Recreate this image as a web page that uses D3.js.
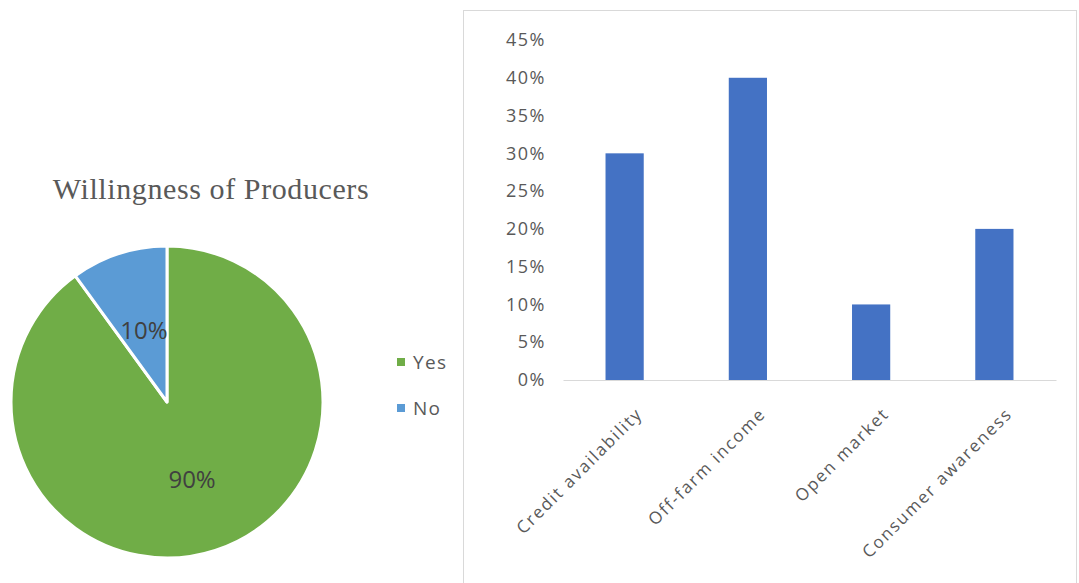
<!DOCTYPE html>
<html>
<head>
<meta charset="utf-8">
<script src="https://cdn.jsdelivr.net/npm/d3@7"></script>
<style>
  html, body { margin: 0; padding: 0; background: #ffffff; }
  svg { display: block; }
</style>
</head>
<body>
<svg id="chart" width="1079" height="583"></svg>
<script>
// Pie: willingness of producers
const pieLabels = ["Yes", "No"];
const pieValues = [0.90, 0.10];

// Bar: factors
const barCategories = ["Credit availability", "Off-farm income", "Open market", "Consumer awareness"];
const barValues = [0.30, 0.40, 0.10, 0.20];
const yTicks = [0, 0.05, 0.10, 0.15, 0.20, 0.25, 0.30, 0.35, 0.40, 0.45];

const svg = d3.select("#chart");
const textGray = "#595959";
const sans = "'Open Sans', 'Noto Sans', sans-serif";

// ---------- Pie chart ----------
const pieColor = d3.scaleOrdinal().domain(pieLabels).range(["#70AD47", "#5B9BD5"]);
const cx = 167, cy = 402, r = 156;

svg.append("text")
  .attr("x", 211).attr("y", 199)
  .attr("text-anchor", "middle")
  .style("font-family", "'Liberation Serif', 'DejaVu Serif', serif")
  .style("font-size", "30px")
  .style("letter-spacing", "0.6px")
  .style("fill", textGray)
  .text("Willingness of Producers");

const pie = d3.pie().sort(null).value(d => d.value);
const pieData = pie(pieLabels.map((l, i) => ({ label: l, value: pieValues[i] })));
const arc = d3.arc().innerRadius(0).outerRadius(r);

const pg = svg.append("g").attr("transform", `translate(${cx},${cy})`);
pg.selectAll("path.slice")
  .data(pieData)
  .join("path")
  .attr("class", "slice")
  .attr("d", arc)
  .attr("fill", d => pieColor(d.data.label))
  .attr("stroke", "#ffffff")
  .attr("stroke-width", 3)
  .attr("stroke-linejoin", "round");

// data labels placed inside slices
pg.selectAll("text.pct")
  .data(pieData)
  .join("text")
  .attr("class", "pct")
  .attr("transform", d => {
    const k = d.data.label === "Yes" ? 0.52 : 0.48;
    const [x, y] = d3.arc().innerRadius(r * k).outerRadius(r * k).centroid(d);
    return `translate(${x},${y})`;
  })
  .attr("text-anchor", "middle")
  .attr("dy", "0.35em")
  .style("font-family", sans)
  .style("font-size", "24px")
  .style("fill", "#404040")
  .text(d => d3.format(".0%")(d.data.value));

// legend
const lg = svg.append("g");
pieLabels.forEach((l, i) => {
  const y = 362 + i * 46;
  lg.append("rect")
    .attr("x", 397).attr("y", y - 4)
    .attr("width", 8).attr("height", 8)
    .attr("fill", pieColor(l));
  lg.append("text")
    .attr("x", 413).attr("y", y)
    .attr("dy", "0.36em")
    .style("font-family", sans)
    .style("font-size", "19px")
    .style("letter-spacing", "1.3px")
    .style("fill", textGray)
    .text(l);
});

// ---------- Bar chart ----------
// panel frame
svg.append("rect")
  .attr("x", 463.5).attr("y", 10.5)
  .attr("width", 613).attr("height", 600)
  .attr("fill", "none")
  .attr("stroke", "#d9d9d9")
  .attr("stroke-width", 1);

const x = d3.scaleBand()
  .domain(barCategories)
  .range([563, 1056])
  .paddingInner(0.69)
  .paddingOuter(0.345);

const y = d3.scaleLinear().domain([0, 0.45]).range([380, 40]);

// y axis labels
const yAxis = d3.axisLeft(y)
  .tickValues(yTicks)
  .tickFormat(d3.format(".0%"))
  .tickSize(0)
  .tickPadding(17);
const yg = svg.append("g").attr("transform", "translate(563,0)").call(yAxis);
yg.select(".domain").remove();
yg.selectAll("text")
  .style("font-family", sans)
  .style("font-size", "18px")
  .style("letter-spacing", "1.5px")
  .style("fill", textGray);

// bars
svg.append("g").selectAll("rect")
  .data(barCategories.map((c, i) => ({ c, v: barValues[i] })))
  .join("rect")
  .attr("x", d => x(d.c))
  .attr("y", d => y(d.v))
  .attr("width", x.bandwidth())
  .attr("height", d => y(0) - y(d.v))
  .attr("fill", "#4472C4");

// x axis with rotated category labels
const xAxis = d3.axisBottom(x).tickSize(0).tickSizeOuter(0);
const xg = svg.append("g").attr("transform", "translate(0,380)").call(xAxis);
xg.select(".domain").attr("stroke", "#d9d9d9").attr("stroke-width", 1.2);
xg.selectAll("text")
  .attr("x", 0).attr("y", 0).attr("dy", 0)
  .attr("text-anchor", "end")
  .attr("transform", "translate(19,35) rotate(-45)")
  .style("font-family", sans)
  .style("font-size", "17px")
  .style("letter-spacing", "1.8px")
  .style("fill", textGray);
</script>
</body>
</html>
